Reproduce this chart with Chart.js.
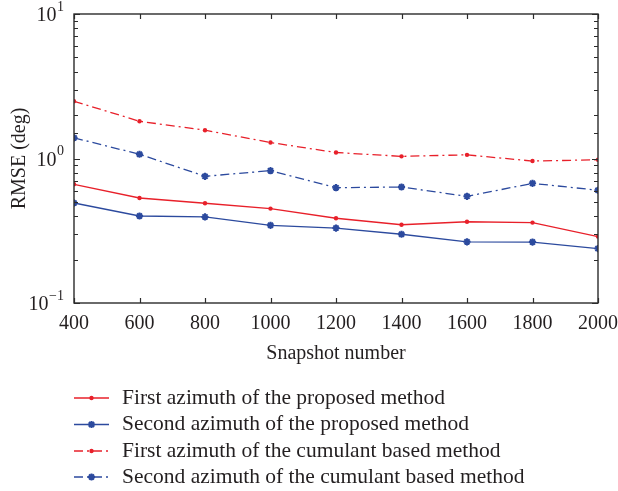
<!DOCTYPE html>
<html>
<head>
<meta charset="utf-8">
<script src="https://cdn.jsdelivr.net/npm/chart.js@4/dist/chart.umd.min.js"></script>
<style>
  html, body { margin: 0; padding: 0; background: #fff; }
  #wrap { width: 618px; height: 491px; position: relative; }
</style>
</head>
<body>
<div id="wrap"><canvas id="c" width="618" height="491"></canvas></div>
<script>
// RMSE (deg) against snapshot number for the four estimators
const snapshots = [400, 600, 800, 1000, 1200, 1400, 1600, 1800, 2000];
const firstProposed  = [0.663, 0.533, 0.490, 0.450, 0.386, 0.348, 0.365, 0.360, 0.288];
const secondProposed = [0.492, 0.400, 0.394, 0.345, 0.330, 0.299, 0.265, 0.264, 0.238];
const firstCumulant  = [2.49, 1.81, 1.57, 1.29, 1.10, 1.035, 1.06, 0.96, 0.98];
const secondCumulant = [1.39, 1.07, 0.753, 0.824, 0.628, 0.635, 0.547, 0.673, 0.603];

const seriesNames = [
  'First azimuth of the proposed method',
  'Second azimuth of the proposed method',
  'First azimuth of the cumulant based method',
  'Second azimuth of the cumulant based method'
];
const xTickStep = 200;
const yDecadeExponents = ['−1', '0', '1'];

const RED = '#e8202a';
const BLUE = '#2c4a9e';
const INK = '#231f20';
const SERIF = '"Liberation Serif", "Times New Roman", serif';

function pts(values) {
  return snapshots.map((s, i) => ({ x: s, y: values[i] }));
}

const dashDot = [9, 4, 2, 4];

const datasets = [
  { label: seriesNames[0], data: pts(firstProposed), borderColor: RED, backgroundColor: RED,
    borderDash: [], pointStyle: 'circle', pointRadius: 2.2, pointBorderWidth: 0 },
  { label: seriesNames[1], data: pts(secondProposed), borderColor: BLUE, backgroundColor: BLUE,
    borderDash: [], pointStyle: 'star', pointRadius: 3.6, pointBorderWidth: 2 },
  { label: seriesNames[2], data: pts(firstCumulant), borderColor: RED, backgroundColor: RED,
    borderDash: dashDot, pointStyle: 'circle', pointRadius: 2.2, pointBorderWidth: 0 },
  { label: seriesNames[3], data: pts(secondCumulant), borderColor: BLUE, backgroundColor: BLUE,
    borderDash: dashDot, pointStyle: 'star', pointRadius: 3.6, pointBorderWidth: 2 }
].map(d => Object.assign({ borderWidth: 1.3, tension: 0, fill: false }, d));

// Box frame, inward tick marks, power-of-ten labels and the stacked legend
const decorations = {
  id: 'decorations',
  afterDatasetsDraw(chart) {
    const { ctx, chartArea: a, scales: { x, y } } = chart;
    ctx.save();
    ctx.strokeStyle = '#2b2b2b';
    ctx.lineWidth = 1.4;
    ctx.setLineDash([]);
    ctx.strokeRect(a.left, a.top, a.right - a.left, a.bottom - a.top);

    ctx.lineWidth = 1.2;
    ctx.beginPath();
    x.ticks.forEach(t => {
      const px = Math.round(x.getPixelForValue(t.value)) + 0.5;
      ctx.moveTo(px, a.bottom); ctx.lineTo(px, a.bottom - 5);
      ctx.moveTo(px, a.top); ctx.lineTo(px, a.top + 5);
    });
    y.ticks.forEach(t => {
      const py = Math.round(y.getPixelForValue(t.value)) + 0.5;
      const exp = Math.log10(t.value);
      const len = Math.abs(exp - Math.round(exp)) < 1e-6 ? 6 : 4;
      ctx.moveTo(a.left, py); ctx.lineTo(a.left + len, py);
      ctx.moveTo(a.right, py); ctx.lineTo(a.right - len, py);
    });
    ctx.stroke();

    // y labels: 10 with a raised exponent
    ctx.fillStyle = INK;
    ctx.textBaseline = 'middle';
    y.ticks.forEach(t => {
      const e = Math.log10(t.value);
      if (Math.abs(e - Math.round(e)) > 1e-6) return;
      const py = y.getPixelForValue(t.value);
      const expText = yDecadeExponents[Math.round(e) + 1];
      ctx.font = '14px ' + SERIF;
      const ew = ctx.measureText(expText).width;
      const right = a.left - 10;
      ctx.textAlign = 'left';
      ctx.fillText(expText, right - ew, py - 7);
      ctx.font = '20px ' + SERIF;
      ctx.textAlign = 'right';
      ctx.fillText('10', right - ew - 0.5, py + 2);
    });

    // legend rows
    const rowY = [398, 424.5, 451, 477];
    chart.data.datasets.forEach((ds, i) => {
      const cy = rowY[i];
      ctx.strokeStyle = ds.borderColor;
      ctx.fillStyle = ds.backgroundColor;
      ctx.lineWidth = ds.borderWidth;
      ctx.setLineDash(ds.borderDash);
      ctx.beginPath();
      ctx.moveTo(74, cy); ctx.lineTo(109, cy);
      ctx.stroke();
      ctx.setLineDash([]);
      ctx.lineWidth = ds.pointBorderWidth || 1;
      Chart.helpers.drawPoint(ctx, {
        pointStyle: ds.pointStyle, radius: ds.pointRadius, rotation: 0,
        borderWidth: ds.pointBorderWidth
      }, 91.5, cy);
      ctx.fillStyle = INK;
      ctx.font = '21.5px ' + SERIF;
      ctx.textAlign = 'left';
      ctx.textBaseline = 'middle';
      ctx.fillText(ds.label, 122, cy);
    });
    ctx.restore();
  }
};

new Chart(document.getElementById('c'), {
  type: 'line',
  data: { datasets },
  plugins: [decorations],
  options: {
    responsive: false,
    animation: false,
    devicePixelRatio: 1,
    layout: { padding: { left: 0, right: 20, top: 14, bottom: 0 } },
    plugins: { legend: { display: false }, tooltip: { enabled: false } },
    scales: {
      x: {
        type: 'linear', min: 400, max: 2000,
        grid: { display: false, drawTicks: false },
        border: { display: false },
        ticks: { stepSize: xTickStep, padding: 9, color: INK, font: { family: SERIF, size: 20 },
                 callback: v => String(v) },
        title: { display: true, text: 'Snapshot number', color: INK,
                 font: { family: SERIF, size: 20 }, padding: { top: 0, bottom: 125 } },
        afterFit(s) { s.height = 188; s.paddingLeft = 0; s.paddingRight = 0; }
      },
      y: {
        type: 'logarithmic', min: 0.1, max: 10,
        grid: { display: false, drawTicks: false },
        border: { display: false },
        ticks: { display: false },
        title: { display: true, text: 'RMSE (deg)', color: INK,
                 font: { family: SERIF, size: 20 }, padding: { top: 8, bottom: 0 } },
        afterFit(s) { s.width = 74; s.paddingTop = 0; s.paddingBottom = 0; }
      }
    }
  }
});
</script>
</body>
</html>
